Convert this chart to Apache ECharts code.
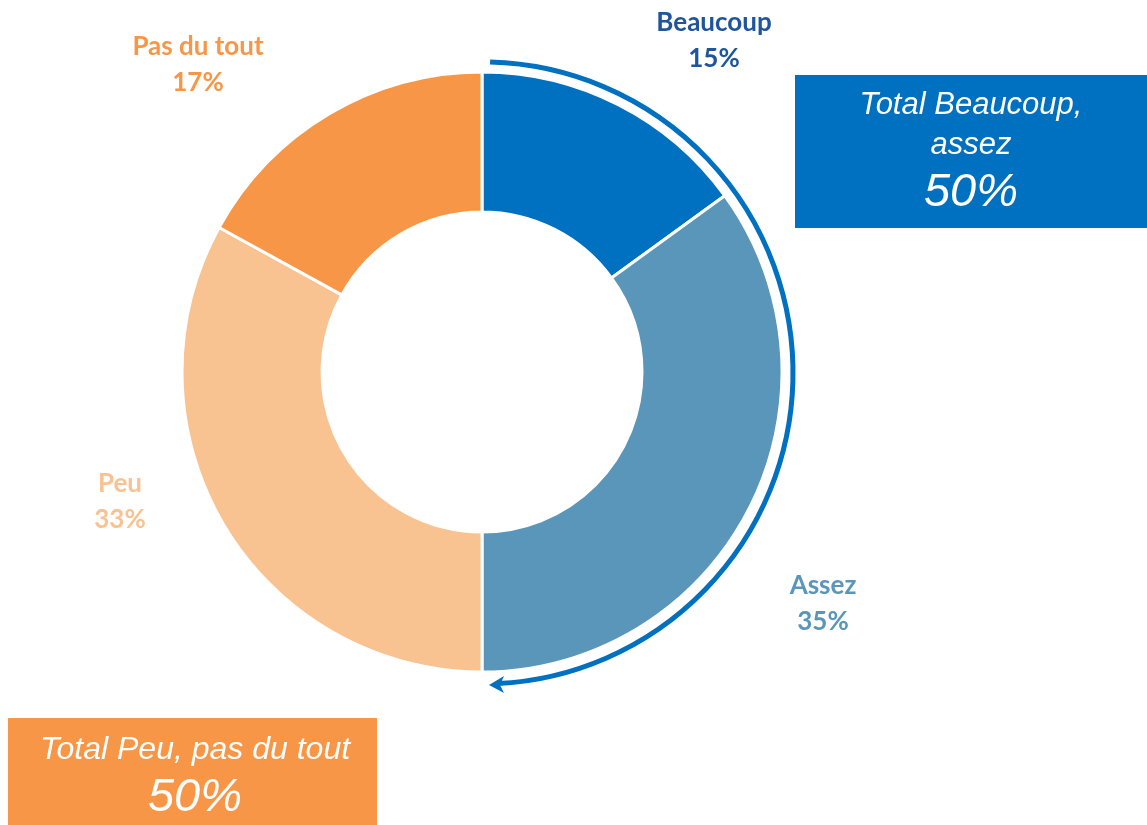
<!DOCTYPE html>
<html>
<head>
<meta charset="utf-8">
<script src="https://cdn.jsdelivr.net/npm/echarts@6/dist/echarts.min.js"></script>
<style>
  html, body { margin: 0; padding: 0; background: #fff; }
  #chart { width: 1147px; height: 825px; }
</style>
</head>
<body>
<div id="chart"></div>
<script>
// données
const categories = ["Beaucoup", "Assez", "Peu", "Pas du tout"];
const values = [15, 35, 33, 17];
const colors = ["#0070C0", "#5A96BA", "#F9C291", "#F79646"];
const labelColors = ["#1F559C", "#5A96BA", "#F9C291", "#F79646"];
// position des étiquettes (centre du texte)
const labelPos = [[714, 41], [823, 604], [120, 502], [198, 65]];

const totalPlus = values[0] + values[1];
const totalMoins = values[2] + values[3];

const cx = 482, cy = 372;
const chart = echarts.init(document.getElementById("chart"));

// flèche autour de "Beaucoup + Assez"
const sum = values.reduce((a, b) => a + b, 0);
const arcR = 311;
const a0 = -Math.PI / 2 + 0.026;
const a1 = -Math.PI / 2 + (totalPlus / sum) * Math.PI * 2 - 0.05;

const option = {
  backgroundColor: "#fff",
  series: [
    {
      type: "pie",
      center: [cx, cy],
      radius: [160, 300],
      startAngle: 90,
      clockwise: true,
      silent: true,
      itemStyle: { borderColor: "#fff", borderWidth: 3 },
      label: {
        show: true,
        position: "outside",
        formatter: "{b}\n{c}%",
        fontFamily: "Lato",
        fontWeight: "bold",
        fontSize: 26,
        lineHeight: 36,
        align: "center"
      },
      labelLine: { show: false },
      labelLayout: function (p) {
        const pos = labelPos[p.dataIndex];
        return { x: pos[0], y: pos[1], align: "center", verticalAlign: "middle" };
      },
      data: categories.map((c, i) => ({
        name: c,
        value: values[i],
        itemStyle: { color: colors[i] },
        label: { color: labelColors[i] }
      }))
    }
  ],
  graphic: [
    {
      type: "arc",
      shape: { cx: cx, cy: cy + 1, r: arcR, startAngle: a0, endAngle: a1, clockwise: true },
      style: { stroke: "#0070C0", lineWidth: 5, fill: null }
    },
    {
      type: "polygon",
      shape: { points: [[489, 685], [504, 676], [500, 685], [504, 693]] },
      style: { fill: "#0070C0" }
    },
    {
      type: "group",
      left: 795,
      top: 75,
      children: [
        { type: "rect", shape: { x: 0, y: 0, width: 352, height: 153 }, style: { fill: "#0070C0" } },
        {
          type: "text", x: 176, y: 30,
          style: { text: "Total Beaucoup,", fill: "#fff", font: "italic 31px 'Liberation Sans'", align: "center", verticalAlign: "middle" }
        },
        {
          type: "text", x: 176, y: 70,
          style: { text: "assez", fill: "#fff", font: "italic 31px 'Liberation Sans'", align: "center", verticalAlign: "middle" }
        },
        {
          type: "text", x: 176, y: 118,
          style: { text: totalPlus + "%", fill: "#fff", font: "italic 47px 'Liberation Sans'", align: "center", verticalAlign: "middle" }
        }
      ]
    },
    {
      type: "group",
      left: 8,
      top: 718,
      children: [
        { type: "rect", shape: { x: 0, y: 0, width: 369, height: 107 }, style: { fill: "#F79646" } },
        {
          type: "text", x: 187, y: 32,
          style: { text: "Total Peu, pas du tout", fill: "#fff", font: "italic 32px 'Liberation Sans'", align: "center", verticalAlign: "middle" }
        },
        {
          type: "text", x: 187, y: 80,
          style: { text: totalMoins + "%", fill: "#fff", font: "italic 47px 'Liberation Sans'", align: "center", verticalAlign: "middle" }
        }
      ]
    }
  ]
};

chart.setOption(option);
</script>
</body>
</html>
